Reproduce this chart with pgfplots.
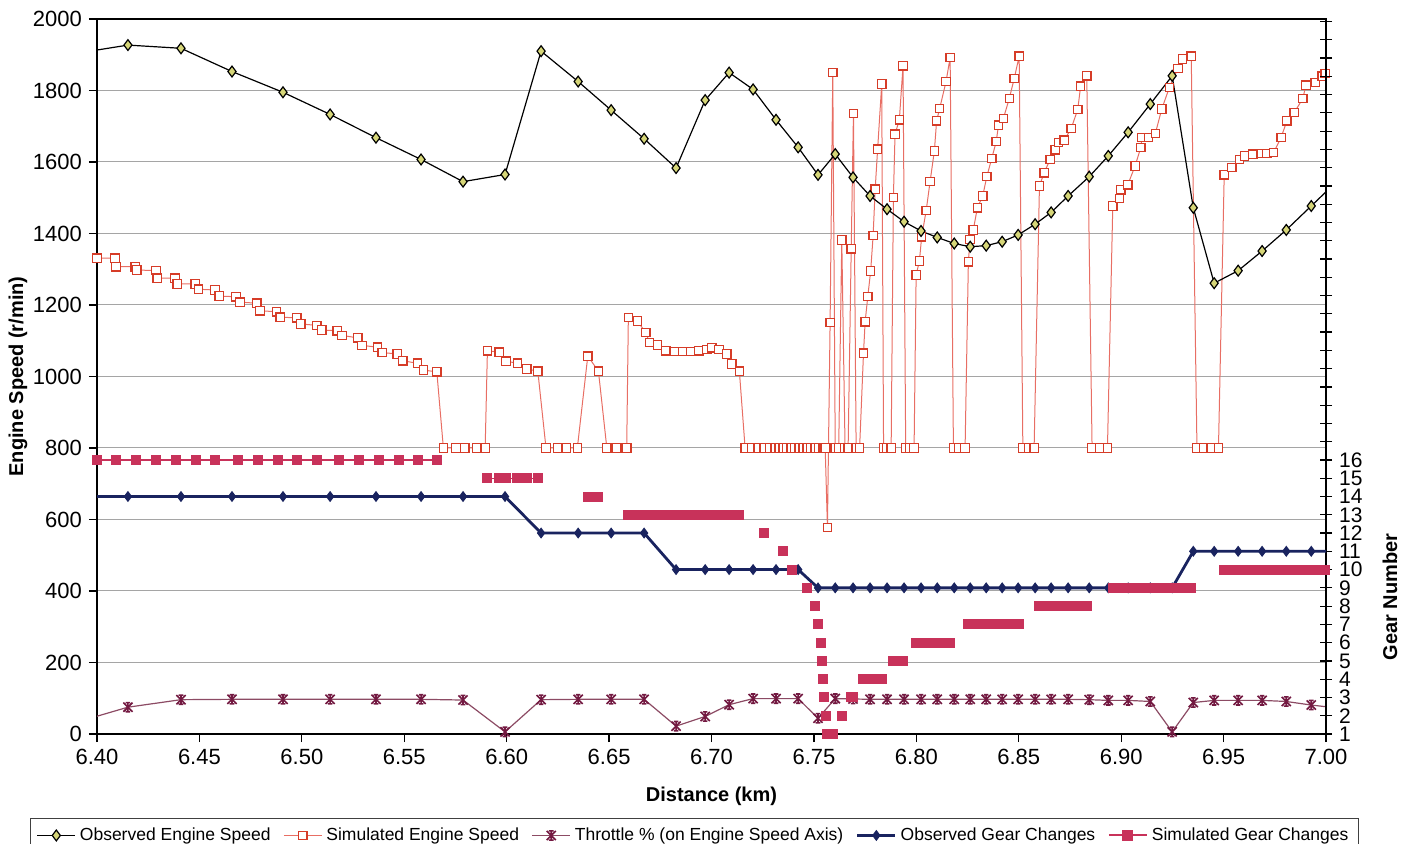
\documentclass[border=0pt]{standalone}
\usepackage{fontspec}
\setmainfont{Liberation Sans}
\usepackage{pgfplots}
\pgfplotsset{compat=1.18}
\usepackage{pgfplotstable}

\definecolor{obsfill}{RGB}{214,214,120}
\definecolor{simred}{RGB}{214,60,40}
\definecolor{simline}{RGB}{232,110,100}
\definecolor{thrmark}{RGB}{115,25,65}
\definecolor{thrline}{RGB}{140,75,100}
\definecolor{gearblue}{RGB}{25,35,95}
\definecolor{gearpink}{RGB}{200,50,90}
\definecolor{gridgray}{RGB}{165,165,165}

\pgfdeclareplotmark{xstar}{%
  \pgfpathmoveto{\pgfqpoint{-\pgfplotmarksize}{-\pgfplotmarksize}}%
  \pgfpathlineto{\pgfqpoint{\pgfplotmarksize}{\pgfplotmarksize}}%
  \pgfpathmoveto{\pgfqpoint{-\pgfplotmarksize}{\pgfplotmarksize}}%
  \pgfpathlineto{\pgfqpoint{\pgfplotmarksize}{-\pgfplotmarksize}}%
  \pgfpathmoveto{\pgfqpoint{0pt}{-\pgfplotmarksize}}%
  \pgfpathlineto{\pgfqpoint{0pt}{\pgfplotmarksize}}%
  \pgfpathmoveto{\pgfqpoint{-0.5\pgfplotmarksize}{\pgfplotmarksize}}%
  \pgfpathlineto{\pgfqpoint{0.5\pgfplotmarksize}{\pgfplotmarksize}}%
  \pgfpathmoveto{\pgfqpoint{-0.5\pgfplotmarksize}{-\pgfplotmarksize}}%
  \pgfpathlineto{\pgfqpoint{0.5\pgfplotmarksize}{-\pgfplotmarksize}}%
  \pgfusepathqstroke}

% observed data: distance, engine speed, throttle, gear
\pgfplotstableread{
x eng thr gear
6.3900 1904 33 14
6.4151 1927 75 14
6.4410 1918 96 14
6.4659 1853 97 14
6.4908 1795 97 14
6.5138 1733 97 14
6.5362 1668 97 14
6.5582 1607 97 14
6.5787 1545 95 14
6.5992 1565 6 14
6.6168 1910 96 12
6.6349 1825 97 12
6.6510 1745 97 12
6.6671 1665 97 12
6.6827 1583 22 10
6.6969 1773 49 10
6.7086 1850 82 10
6.7203 1803 99 10
6.7315 1718 99 10
6.7423 1641 99 10
6.7520 1564 44 9
6.7604 1622 99 9
6.7691 1557 98 9
6.7774 1505 97 9
6.7857 1468 97 9
6.7940 1433 97 9
6.8023 1407 97 9
6.8102 1389 97 9
6.8185 1372 97 9
6.8263 1363 97 9
6.8341 1366 97 9
6.8419 1377 97 9
6.8497 1396 97 9
6.8580 1426 97 9
6.8658 1459 97 9
6.8741 1505 97 9
6.8844 1559 96 9
6.8937 1617 94 9
6.9034 1683 94 9
6.9142 1762 91 9
6.9249 1841 6 9
6.9352 1472 88 11
6.9454 1261 94 11
6.9571 1296 94 11
6.9688 1351 94 11
6.9806 1410 91 11
6.9928 1477 81 11
7.0050 1544 73 11
}\obs

% simulated engine speed
\pgfplotstableread{
x y
6.4000 1331
6.4088 1331
6.4093 1307
6.4186 1307
6.4194 1298
6.4288 1296
6.4294 1275
6.4381 1275
6.4392 1259
6.4479 1259
6.4495 1244
6.4576 1242
6.4597 1225
6.4679 1223
6.4698 1208
6.4780 1205
6.4796 1184
6.4877 1181
6.4894 1166
6.4975 1164
6.4995 1147
6.5073 1143
6.5097 1130
6.5173 1128
6.5196 1115
6.5273 1108
6.5294 1087
6.5369 1082
6.5392 1067
6.5466 1063
6.5493 1044
6.5564 1037
6.5593 1018
6.5659 1013
6.5691 800
6.5753 800
6.5796 800
6.5854 800
6.5895 800
6.5906 1072
6.5964 1068
6.5997 1043
6.6052 1037
6.6098 1021
6.6152 1015
6.6192 800
6.6248 800
6.6293 800
6.6345 800
6.6396 1057
6.6448 1015
6.6489 800
6.6538 800
6.6586 800
6.6594 1165
6.6638 1155
6.6679 1123
6.6697 1095
6.6736 1088
6.6777 1072
6.6819 1070
6.6860 1070
6.6899 1070
6.6938 1072
6.6977 1076
6.7001 1080
6.7037 1076
6.7075 1063
6.7099 1035
6.7136 1015
6.7164 800
6.7196 800
6.7228 800
6.7257 800
6.7286 800
6.7311 800
6.7330 800
6.7350 800
6.7369 800
6.7389 800
6.7408 800
6.7428 800
6.7448 800
6.7467 800
6.7486 800
6.7506 800
6.7525 800
6.7545 800
6.7555 800
6.7566 578
6.7579 1151
6.7592 1850
6.7604 800
6.7621 800
6.7636 1382
6.7652 800
6.7667 800
6.7682 1357
6.7693 1736
6.7706 800
6.7723 800
6.7742 1065
6.7750 1153
6.7763 1224
6.7777 1295
6.7789 1394
6.7799 1524
6.7811 1636
6.7831 1818
6.7840 800
6.7857 800
6.7877 800
6.7888 1501
6.7896 1678
6.7917 1718
6.7935 1869
6.7948 800
6.7967 800
6.7989 800
6.7999 1284
6.8015 1323
6.8026 1391
6.8048 1464
6.8067 1545
6.8088 1631
6.8099 1715
6.8114 1750
6.8145 1825
6.8165 1892
6.8181 800
6.8206 800
6.8238 800
6.8254 1321
6.8262 1383
6.8278 1410
6.8298 1472
6.8324 1505
6.8344 1559
6.8368 1610
6.8390 1657
6.8401 1703
6.8425 1722
6.8454 1778
6.8478 1834
6.8502 1896
6.8520 800
6.8547 800
6.8575 800
6.8601 1533
6.8624 1570
6.8653 1607
6.8678 1634
6.8694 1654
6.8722 1661
6.8756 1694
6.8788 1747
6.8802 1812
6.8832 1841
6.8858 800
6.8897 800
6.8933 800
6.8959 1477
6.8991 1498
6.8998 1522
6.9032 1536
6.9068 1589
6.9096 1641
6.9101 1668
6.9133 1668
6.9167 1680
6.9198 1748
6.9235 1808
6.9277 1862
6.9299 1888
6.9342 1896
6.9370 800
6.9402 800
6.9439 800
6.9475 800
6.9503 1564
6.9540 1585
6.9578 1607
6.9602 1617
6.9643 1622
6.9684 1624
6.9711 1624
6.9744 1626
6.9781 1669
6.9809 1715
6.9845 1738
6.9887 1778
6.9902 1815
6.9947 1822
6.9981 1840
6.9996 1848
}\simeng

% simulated gear (nan = no gear recorded)
\pgfplotstableread{
x g
6.4000 16
6.4093 16
6.4190 16
6.4288 16
6.4386 16
6.4483 16
6.4576 16
6.4688 16
6.4786 16
6.4884 16
6.4976 16
6.5074 16
6.5181 16
6.5278 16
6.5376 16
6.5474 16
6.5567 16
6.5660 16
6.5680 nan
6.5906 15
6.5964 15
6.5997 15
6.6052 15
6.6098 15
6.6152 15
6.6170 nan
6.6396 14
6.6448 14
6.6460 nan
6.6594 13
6.6638 13
6.6679 13
6.6697 13
6.6736 13
6.6777 13
6.6819 13
6.6860 13
6.6899 13
6.6938 13
6.6977 13
6.7001 13
6.7037 13
6.7075 13
6.7099 13
6.7136 13
6.7150 nan
6.7257 12
6.7300 nan
6.7348 11
6.7370 nan
6.7392 10
6.7400 nan
6.7465 9
6.7480 nan
6.7506 8
6.7515 nan
6.7522 7
6.7528 nan
6.7534 6
6.7536 nan
6.7539 5
6.7541 nan
6.7543 4
6.7546 nan
6.7550 3
6.7555 nan
6.7560 2
6.7563 nan
6.7566 1
6.7579 1
6.7592 1
6.7600 nan
6.7636 2
6.7650 nan
6.7682 3
6.7693 3
6.7700 nan
6.7742 4
6.7750 4
6.7763 4
6.7777 4
6.7789 4
6.7799 4
6.7811 4
6.7831 4
6.7840 nan
6.7888 5
6.7896 5
6.7917 5
6.7935 5
6.7945 nan
6.7999 6
6.8015 6
6.8026 6
6.8048 6
6.8067 6
6.8088 6
6.8099 6
6.8114 6
6.8145 6
6.8165 6
6.8175 nan
6.8254 7
6.8262 7
6.8278 7
6.8298 7
6.8324 7
6.8344 7
6.8368 7
6.8390 7
6.8401 7
6.8425 7
6.8454 7
6.8478 7
6.8502 7
6.8515 nan
6.8601 8
6.8624 8
6.8653 8
6.8678 8
6.8694 8
6.8722 8
6.8756 8
6.8788 8
6.8802 8
6.8832 8
6.8850 nan
6.8959 9
6.8991 9
6.8998 9
6.9032 9
6.9068 9
6.9096 9
6.9101 9
6.9133 9
6.9167 9
6.9198 9
6.9235 9
6.9277 9
6.9299 9
6.9342 9
6.9360 nan
6.9503 10
6.9540 10
6.9578 10
6.9602 10
6.9643 10
6.9684 10
6.9711 10
6.9744 10
6.9781 10
6.9809 10
6.9845 10
6.9887 10
6.9902 10
6.9947 10
6.9981 10
6.9996 10
}\simgear

\begin{document}
\begin{tikzpicture}
\pgfplotsset{
  every axis/.append style={
    scale only axis, width=614.5pt, height=357.5pt,
    xmin=6.4, xmax=7.0,
    /pgf/number format/assume math mode=true,
    tick label style={font=\fontsize{11}{13}\selectfont},
    label style={font=\fontsize{10}{12}\selectfont\bfseries},
    tick style={black, line width=0.6pt},
  }
}
\begin{axis}[
  name=main,
  ymin=0, ymax=2000,
  axis line style={black, line width=0.9pt},
  xtick={6.4,6.45,6.5,6.55,6.6,6.65,6.7,6.75,6.8,6.85,6.9,6.95,7.0},
  xticklabel style={/pgf/number format/.cd, fixed, fixed zerofill, precision=2},
  ytick={0,200,...,2000},
  yticklabel style={/pgf/number format/1000 sep={}},
  tick pos=left, tick align=outside, major tick length=4pt,
  ymajorgrids, grid style={gridgray, line width=0.5pt},
  xlabel={Distance (km)},
  xlabel style={at={(axis description cs:0.5,-0.0867)}, anchor=center},
  ylabel={Engine Speed (r/min)},
  ylabel style={at={(axis description cs:-0.0643,0.5)}, anchor=center},
]
% throttle
\addplot[thrline, line width=0.6pt, forget plot] table[x=x,y=thr]{\obs};
\addplot[only marks, mark=xstar, mark size=2.3pt, mark options={draw=thrmark, line width=0.8pt},
  restrict x to domain=6.395:7.001, forget plot] table[x=x,y=thr]{\obs};
% simulated engine speed
\addplot[simline, line width=0.5pt, mark=square*, mark size=2.1pt,
  mark options={fill=white, draw=simred, line width=0.6pt}, forget plot] table[x=x,y=y]{\simeng};
% observed engine speed
\addplot[black, line width=0.6pt, forget plot] table[x=x,y=eng]{\obs};
\addplot[only marks, mark=diamond*, mark size=2.7pt, mark options={fill=obsfill, draw=black, line width=0.6pt},
  restrict x to domain=6.395:7.001, forget plot] table[x=x,y=eng]{\obs};
\end{axis}

\begin{axis}[
  ymin=1, ymax=40.14,
  axis x line=none, axis y line*=right,
  axis line style={black, line width=0.9pt},
  ytick={1,...,16}, minor ytick={17,...,40},
  yticklabel style={font=\fontsize{10.5}{11}\selectfont, inner ysep=0pt},
  tick align=center, major tick length=6pt, minor tick length=6pt,
  minor tick style={black, line width=0.6pt},
  ylabel={Gear Number},
  ylabel style={at={(axis description cs:1.052,0.1916)}, anchor=center},
  legend columns=5,
  legend style={at={(axis description cs:0.4862,-0.1175)}, anchor=north,
    font=\fontsize{8.75}{10.5}\selectfont, draw=black!75, line width=0.6pt,
    inner xsep=3pt, inner ysep=2.5pt,
    /tikz/every even column/.append style={column sep=4.3pt}},
  legend image code/.code={\draw[mark repeat=2,mark phase=2,#1] plot coordinates {(0pt,0pt)(9.5pt,0pt)(19pt,0pt)};},
]
\addlegendimage{black, line width=0.6pt, mark=diamond*, mark size=2.7pt, mark options={fill=obsfill, draw=black, line width=0.6pt}}
\addlegendentry{Observed Engine Speed}
\addlegendimage{simline, line width=0.6pt, mark=square*, mark size=2.1pt, mark options={fill=white, draw=simred, line width=0.6pt}}
\addlegendentry{Simulated Engine Speed}
\addlegendimage{thrline, line width=0.6pt, mark=xstar, mark size=2.3pt, mark options={draw=thrmark, line width=0.8pt}}
\addlegendentry{Throttle \% (on Engine Speed Axis)}
\addlegendimage{gearblue, line width=1.4pt, mark=diamond*, mark size=2.4pt, mark options={fill=gearblue, line width=0.5pt}}
\addlegendentry{Observed Gear Changes}
\addlegendimage{gearpink, line width=1pt, mark=square*, mark size=2.2pt, mark options={fill=gearpink, draw=gearpink}}
\addlegendentry{Simulated Gear Changes}
% observed gear
\addplot[gearblue, line width=1.4pt, forget plot] table[x=x,y=gear]{\obs};
\addplot[only marks, mark=diamond*, mark size=2.4pt, mark options={fill=gearblue, draw=gearblue, line width=0.5pt},
  restrict x to domain=6.395:7.001, forget plot] table[x=x,y=gear]{\obs};
% simulated gear
\addplot[gearpink, line width=0.6pt, mark=square*, mark size=2.2pt, mark options={fill=gearpink, draw=gearpink},
  unbounded coords=jump, forget plot] table[x=x,y=g]{\simgear};
\end{axis}
\pgfresetboundingbox
\path ([xshift=-48.5pt,yshift=-54.5pt]main.south west) rectangle ([xshift=41pt,yshift=9.5pt]main.north east);
\end{tikzpicture}
\end{document}
